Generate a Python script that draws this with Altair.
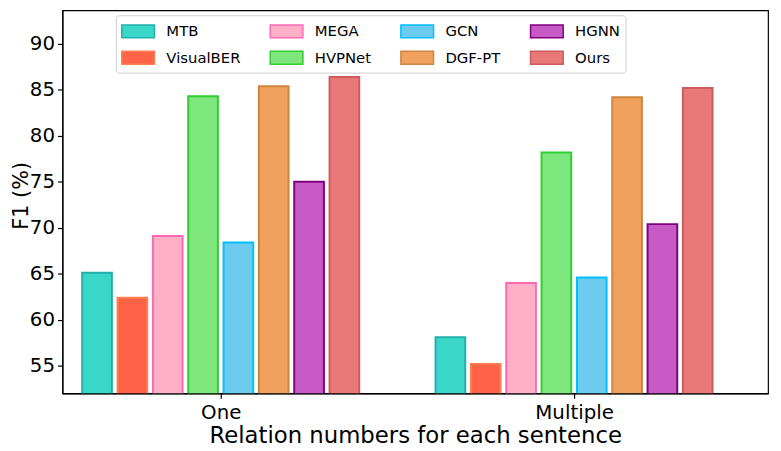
import altair as alt
import pandas as pd

groups = ["One", "Multiple"]
models = ["MTB", "VisualBER", "MEGA", "HVPNet", "GCN", "DGF-PT", "HGNN", "Ours"]
f1_one = [65.1, 62.4, 69.1, 84.3, 68.4, 85.4, 75.0, 86.4]
f1_multiple = [58.1, 55.2, 64.0, 78.2, 64.6, 84.2, 70.4, 85.2]
y_ticks = [55, 60, 65, 70, 75, 80, 85, 90]

fills = ["#3AD7C8", "#FF6347", "#FFAFC6", "#7DE77D", "#6CCBEF", "#F0A15D", "#C85AC5", "#E97979"]
edges = ["#20B2AA", "#FF7F50", "#FF69B4", "#32CD32", "#00BFFF", "#CD853F", "#800080", "#CD5C5C"]

rows = []
for gi, (g, vals) in enumerate(zip(groups, [f1_one, f1_multiple])):
    for mi, (m, v) in enumerate(zip(models, vals)):
        rows.append({"group": g, "gi": gi, "model": m, "mi": mi, "f1": v})
df = pd.DataFrame(rows)

label_expr = " : ".join(
    [f"datum.value == {i} ? '{g}'" for i, g in enumerate(groups)] + ["''"]
)

legend_kw = dict(
    title=None,
    orient="none",
    direction="vertical",
    legendX=54,
    legendY=5,
    columns=4,
    symbolType="M-1,-0.65H2.3V0.65H-1Z",
    symbolSize=400,
    symbolStrokeWidth=1.5,
    labelFont="DejaVu Sans",
    labelFontSize=15,
    labelColor="black",
    labelOffset=24,
    padding=5,
    rowPadding=6,
    columnPadding=27,
    strokeColor="#cccccc",
    fillColor="rgba(255,255,255,0.8)",
    cornerRadius=3,
    zindex=1,
)

chart = (
    alt.Chart(df)
    .transform_calculate(
        xc="datum.gi + (datum.mi - 3.5) * 0.1",
    )
    .transform_calculate(
        x0="datum.xc - 0.042",
        x1="datum.xc + 0.042",
    )
    .mark_bar(strokeWidth=2, clip=True)
    .encode(
        x=alt.X(
            "x0:Q",
            scale=alt.Scale(domain=[-0.448, 1.549], nice=False, zero=False),
            axis=alt.Axis(
                values=list(range(len(groups))),
                labelExpr=label_expr,
                title="Relation numbers for each sentence",
                grid=False,
                labelPadding=4,
                titleBaseline="alphabetic",
                titleY=50,
            ),
        ),
        x2="x1:Q",
        y=alt.Y(
            "f1:Q",
            scale=alt.Scale(domain=[52, 93.66], nice=False, zero=False),
            axis=alt.Axis(
                values=y_ticks,
                title="F1 (%)",
                grid=False,
                labelPadding=3,
                titleBaseline="alphabetic",
                titleX=-35,
                titleY=187,
                titleFontSize=21,
            ),
        ),
        y2=alt.datum(0),
        fill=alt.Fill(
            "model:N",
            scale=alt.Scale(domain=models, range=fills),
            legend=alt.Legend(**legend_kw),
        ),
        stroke=alt.Stroke(
            "model:N",
            scale=alt.Scale(domain=models, range=edges),
            legend=alt.Legend(**legend_kw),
        ),
    )
    .properties(
        width=713,
        height=387,
        autosize=alt.AutoSizeParams(type="none"),
        padding={"left": 55, "top": 0, "right": 5, "bottom": 56},
    )
    .configure_view(stroke="black", strokeWidth=1.2)
    .configure_axis(
        labelFont="DejaVu Sans",
        labelFontSize=20,
        labelColor="black",
        titleFont="DejaVu Sans",
        titleFontSize=23,
        titleFontWeight="normal",
        titleColor="black",
        domainColor="black",
        domainWidth=1.2,
        tickColor="black",
        tickSize=5,
        tickWidth=1.2,
    )
)

chart.save("out.html", embed_options={"renderer": "svg", "actions": False})
